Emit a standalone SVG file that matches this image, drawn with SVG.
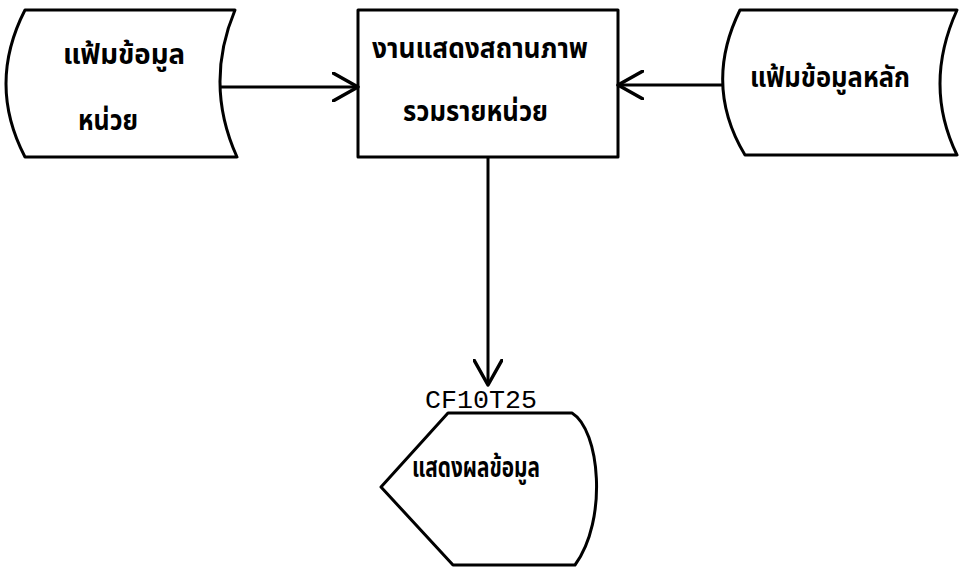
<svg xmlns="http://www.w3.org/2000/svg" width="959" height="568" viewBox="0 0 959 568">
<style>
.shape{fill:#fff;stroke:#000;stroke-width:3;stroke-linejoin:round}
.th{font-family:"Noto Sans Thai","Loma","Garuda","Noto Sans","DejaVu Sans",sans-serif;font-weight:bold;font-size:28px;fill:#000}
.mono{font-family:"Liberation Mono","Courier New",monospace;font-size:26px;fill:#000}
.conn{stroke:#000;stroke-width:3;fill:none}
</style>
<defs>
<marker id="open" viewBox="0 0 28 30" refX="26" refY="15" markerWidth="28" markerHeight="30" markerUnits="userSpaceOnUse" orient="auto">
<path d="M1,1 L26,15 L1,29" fill="none" stroke="#000" stroke-width="3.5" stroke-linecap="round" stroke-linejoin="round"/>
</marker>
</defs>
<rect width="959" height="568" fill="#fff"/>
<g id="unit-file">
<path class="shape" d="M25,10 L235,10 Q204,84 237,157 L25,157 Q-13,84 25,10 Z"/>
<text class="th" x="63" y="64" textLength="122" lengthAdjust="spacingAndGlyphs">แฟ้มข้อมูล</text>
<text class="th" x="78" y="130" textLength="60" lengthAdjust="spacingAndGlyphs">หน่วย</text>
</g>
<g id="process">
<rect class="shape" x="358" y="10" width="260" height="147"/>
<text class="th" x="372" y="58" textLength="216" lengthAdjust="spacingAndGlyphs">งานแสดงสถานภาพ</text>
<text class="th" x="403" y="121" textLength="145" lengthAdjust="spacingAndGlyphs">รวมรายหน่วย</text>
</g>
<g id="master-file">
<path class="shape" d="M740,10 L957,10 Q923,85 957,155 L745,155 Q703,85 740,10 Z"/>
<text class="th" x="750" y="87" textLength="160" lengthAdjust="spacingAndGlyphs">แฟ้มข้อมูลหลัก</text>
</g>
<g id="display">
<text class="mono" x="425" y="408" textLength="112" lengthAdjust="spacingAndGlyphs">CF10T25</text>
<path class="shape" d="M448,413 L572,413 C600,430 608,520 575,565 L453,565 L381,487 Z"/>
<text class="th" x="412" y="477" textLength="128" lengthAdjust="spacingAndGlyphs">แสดงผลข้อมูล</text>
</g>
<g id="connectors">
<line class="conn" x1="220" y1="87" x2="358" y2="87" marker-end="url(#open)"/>
<line class="conn" x1="723" y1="85" x2="618" y2="85" marker-end="url(#open)"/>
<line class="conn" x1="488" y1="157" x2="488" y2="385" marker-end="url(#open)"/>
</g>
</svg>
